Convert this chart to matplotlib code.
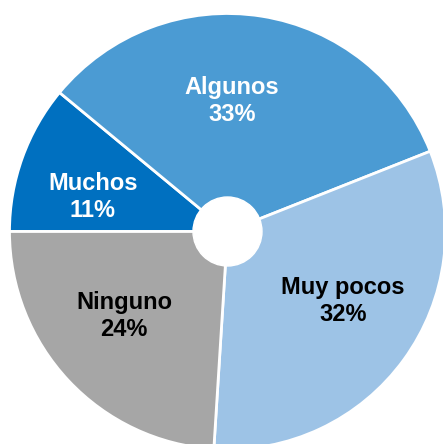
import numpy as np
import matplotlib
matplotlib.use("Agg")
import matplotlib.pyplot as plt

# data
categories = ["Muchos", "Algunos", "Muy pocos", "Ninguno"]
shares = [11, 33, 32, 24]
colors = ["#0070C0", "#4B9BD3", "#9DC3E6", "#A6A6A6"]
text_colors = ["white", "white", "black", "black"]

# label placement tweaks (degrees off the wedge middle, fraction of radius)
label_turn = [5.4, 7.0, 5.0, -4.0]
label_dist = [0.637, 0.60, 0.618, 0.613]

plt.rcParams['font.family'] = ['Liberation Sans', 'DejaVu Sans']

W, H = 443, 444
fig = plt.figure(figsize=(W / 100, H / 100), dpi=100)
ax = fig.add_axes([0, 0, 1, 1])

cx, cy = 227.5, H - 231.5
R = 218
wedges, _ = ax.pie(shares, colors=colors, startangle=180, counterclock=False,
                   center=(cx, cy), radius=R,
                   wedgeprops=dict(edgecolor="white", linewidth=2))

# white hole in the middle
ax.add_patch(plt.Circle((cx, cy), 34.5, color="white", zorder=5))

for i, w in enumerate(wedges):
    mid = np.deg2rad((w.theta1 + w.theta2) / 2 + label_turn[i])
    x = cx + label_dist[i] * R * np.cos(mid)
    y = cy + label_dist[i] * R * np.sin(mid)
    ax.text(x, y, "{}\n{}%".format(categories[i], shares[i]),
            ha="center", va="center", fontsize=17, fontweight="bold",
            color=text_colors[i], linespacing=1.2)

ax.set_xlim(0, W)
ax.set_ylim(0, H)
ax.set_aspect("equal")
ax.axis("off")

fig.savefig("out.png", dpi=100)
